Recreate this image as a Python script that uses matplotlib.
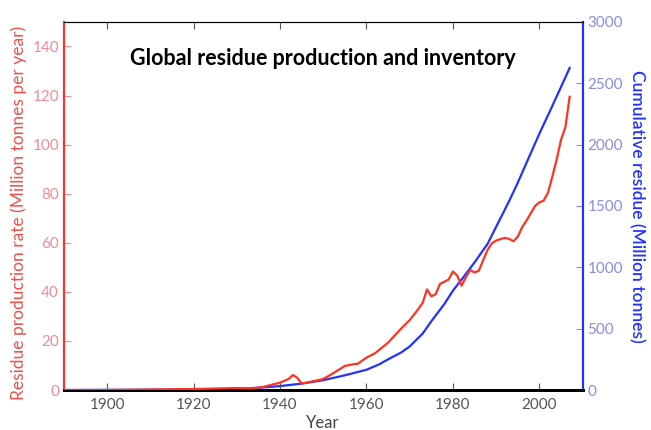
import matplotlib.pyplot as plt

plt.rcParams['font.family'] = ['Lato', 'DejaVu Sans']

# residue production rate (Mt / yr)
rate_years = [1890, 1900, 1910, 1920, 1925, 1930, 1933, 1936, 1940, 1942, 1943, 1944,
              1945, 1948, 1950, 1952, 1955, 1957, 1958, 1960, 1962, 1965, 1968, 1970,
              1972, 1973, 1974, 1975, 1976, 1977, 1979, 1980, 1981, 1982, 1983, 1984,
              1985, 1986, 1987, 1988, 1989, 1990, 1991, 1992, 1993, 1994, 1995, 1996,
              1997, 1998, 1999, 2000, 2001, 2002, 2003, 2004, 2005, 2006, 2007]
rate = [0, 0, 0.2, 0.4, 0.6, 0.8, 0.6, 1.2, 3.0, 4.5, 6.1, 5.0,
        2.6, 3.7, 4.5, 6.5, 9.8, 10.5, 10.7, 13.2, 15.0, 19.3, 25.0, 28.5,
        33.0, 35.5, 41.0, 38.2, 39.0, 43.2, 45.0, 48.3, 46.6, 42.5, 46.0, 48.9,
        47.9, 48.6, 53.0, 57.0, 59.8, 60.9, 61.5, 62.0, 61.6, 60.6, 62.5, 66.3,
        69.0, 72.0, 75.0, 76.5, 77.2, 80.5, 87.0, 94.0, 102.0, 107.0, 119.5]

# cumulative residue (Mt)
cum_years = [1890, 1910, 1920, 1930, 1935, 1940, 1945, 1950, 1955, 1960, 1963, 1965,
             1968, 1970, 1973, 1975, 1978, 1980, 1982, 1985, 1988, 1990, 1993, 1995,
             1998, 2000, 2002, 2005, 2007]
cumulative = [0, 2, 5, 10, 18, 32, 52, 80, 120, 165, 210, 250,
              305, 355, 460, 560, 700, 810, 900, 1040, 1190, 1330, 1540, 1690,
              1930, 2090, 2240, 2470, 2625]

red = '#ff3322'
blue = '#2233ff'

fig = plt.figure(figsize=(6.51, 4.30), dpi=100)
ax = fig.add_axes([0.098, 0.093, 0.797, 0.856])
ax2 = ax.twinx()

ax.plot(rate_years, rate, color=red, lw=1.6, zorder=3)
ax2.plot(cum_years, cumulative, color=blue, lw=1.6)
ax.set_zorder(ax2.get_zorder() + 1)
ax.patch.set_visible(False)

ax.set_xlim(1890, 2010)
ax.set_ylim(0, 150)
ax2.set_ylim(0, 3000)
ax.set_xticks([1900, 1920, 1940, 1960, 1980, 2000])
ax.set_yticks(range(0, 141, 20))
ax2.set_yticks(range(0, 3001, 500))

ax.tick_params(axis='x', direction='in', top=True, length=5, labelsize=11,
               labelcolor='#555555', color='#555555', pad=6)
ax.tick_params(axis='y', direction='in', length=5, labelsize=11,
               labelcolor='#f08a9a', color='#f08a9a')
ax2.tick_params(axis='y', direction='in', length=5, labelsize=11,
                labelcolor='#8a8ae8', color='#8a8ae8')

for a in (ax, ax2):
    a.spines['top'].set_color('black')
    a.spines['bottom'].set_color('black')
    a.spines['bottom'].set_linewidth(2)
    a.spines['left'].set_color(red)
    a.spines['right'].set_color(blue)
    a.spines['left'].set_linewidth(1.5)
    a.spines['right'].set_linewidth(1.5)

ax.set_xlabel('Year', fontsize=12, color='#444444', labelpad=2)
ax.set_ylabel('Residue production rate (Million tonnes per year)', color='#f0504a',
              fontsize=12.5)
ax.yaxis.set_label_coords(-0.07, 0.48)
ax2.set_ylabel('Cumulative residue (Million tonnes)', color=blue, fontsize=12.5,
               fontweight='semibold', rotation=270, labelpad=16)

ax.text(0.5, 0.90, 'Global residue production and inventory', transform=ax.transAxes,
        ha='center', va='center', fontsize=15.5, fontweight='bold', color='black')

fig.savefig('out.png', dpi=100)
